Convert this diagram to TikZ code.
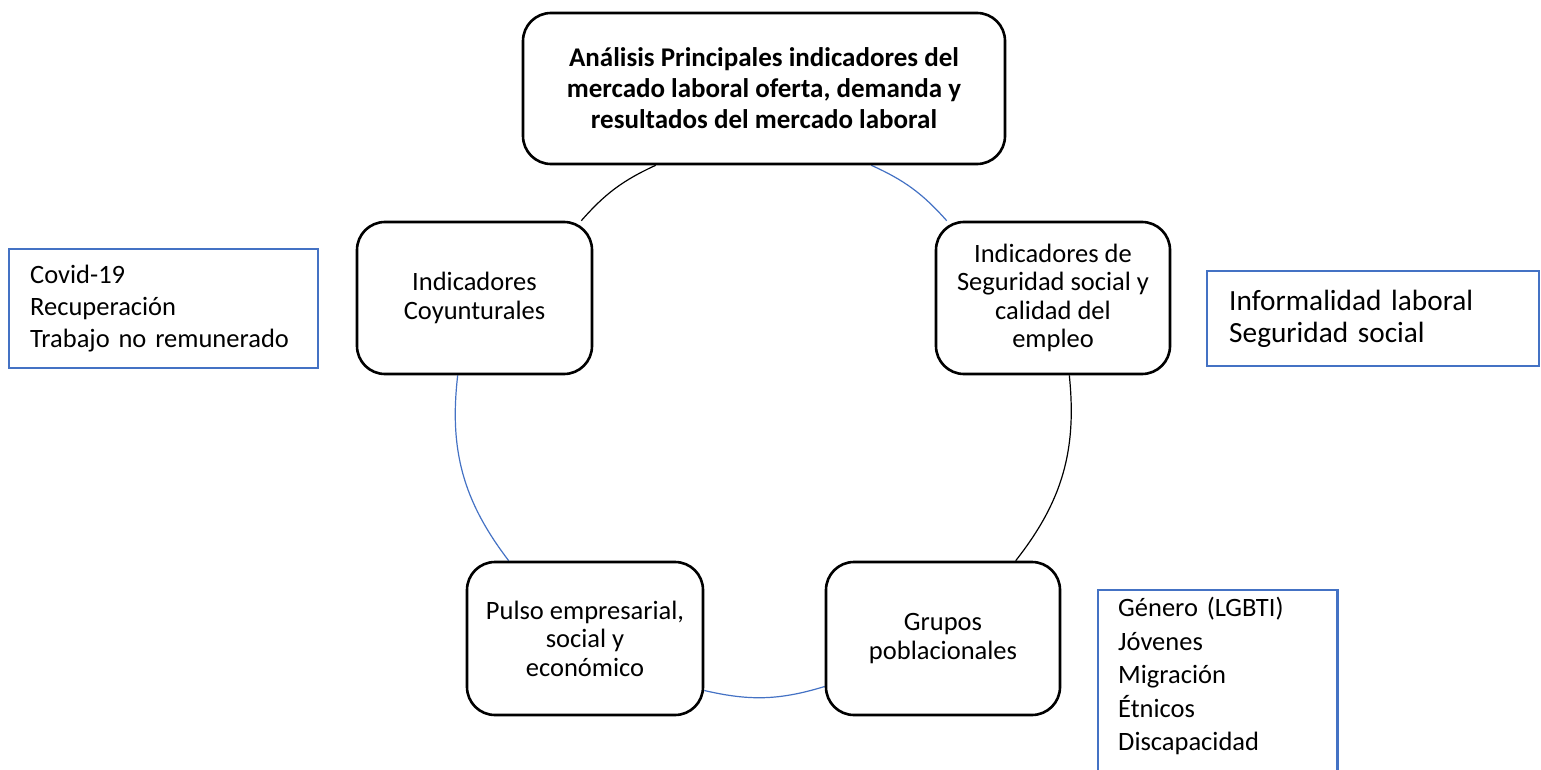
\documentclass[tikz,border=0pt]{standalone}
\usepackage{fontspec}
\setmainfont{Carlito}
\usetikzlibrary{calc,backgrounds}
\definecolor{sblue}{HTML}{4472C4}
\begin{document}
\begin{tikzpicture}[x=1pt,y=1pt,
  cyc/.style={draw=black, fill=white, line width=2.6pt, rounded corners=28pt, align=center, inner sep=0pt,
    font=\fontsize{26.5}{28.5}\selectfont},
  lbox/.style={draw=sblue, line width=2.4pt, align=left, inner ysep=0pt, anchor=north west,
    font=\fontsize{26.5}{32}\selectfont},
  link/.style={line width=1.2pt},
  ]
\useasboundingbox (0,0) rectangle (1541,-770);
\clip (0,0) rectangle (1541,-770);
\node[cyc, minimum width=482pt, minimum height=151pt, font=\fontsize{27}{31}\selectfont\bfseries] (T) at (764,-88.5)
  {Análisis Principales indicadores del\\mercado laboral oferta, demanda y\\resultados del mercado laboral};
\node[cyc, minimum width=235pt, minimum height=152pt] (L) at (474.5,-298) {Indicadores\\Coyunturales};
\node[cyc, minimum width=234pt, minimum height=152pt] (R) at (1053,-298) {Indicadores de\\Seguridad social y\\calidad del\\empleo};
\node[cyc, minimum width=236pt, minimum height=153pt] (P) at (585,-638.5) {Pulso empresarial,\\social y\\económico};
\node[cyc, minimum width=234pt, minimum height=153pt] (G) at (943,-638.5) {Grupos\\poblacionales};

\node[lbox, text width=267pt, inner xsep=21pt, minimum height=119pt] (B1) at (8,-248)
  {Covid-19\\Recuperación\\Trabajo no remunerado};
\node[lbox, text width=288pt, inner xsep=22pt, minimum height=95pt, font=\fontsize{29.3}{32}\selectfont] (B2) at (1206,-270)
  {Informalidad laboral\\Seguridad social};
\node[lbox, draw=none, text width=199pt, inner xsep=19pt, inner ysep=0pt, font=\fontsize{26.5}{33.5}\selectfont] (B3) at (1098,-596)
  {Género (LGBTI)\\Jóvenes\\Migración\\Étnicos\\Discapacidad};
\draw[draw=sblue, line width=2.4pt] ($(B3.north west)+(0,-200)$) -- ($(B3.north west)+(0,6)$) -- ($(B3.north east)+(0,6)$) -- ++(0,-206);

\begin{scope}[on background layer]
\draw[link] ($(L.north east)+(-12,0)$) to[bend left=12] ($(T.south west)+(134,0)$);
\draw[link, sblue] ($(T.south east)+(-135,0)$) to[bend left=12] ($(R.north west)+(12,0)$);
\draw[link] ($(R.south east)+(-102,0)$) to[bend left=22] ($(G.north west)+(191,0)$);
\draw[link, sblue] ($(G.west)+(0,-48)$) to[bend left=15] ($(P.east)+(0,-52)$);
\draw[link, sblue] ($(P.north west)+(43,0)$) to[bend left=22] ($(L.south west)+(102,0)$);
\end{scope}
\end{tikzpicture}
\end{document}
